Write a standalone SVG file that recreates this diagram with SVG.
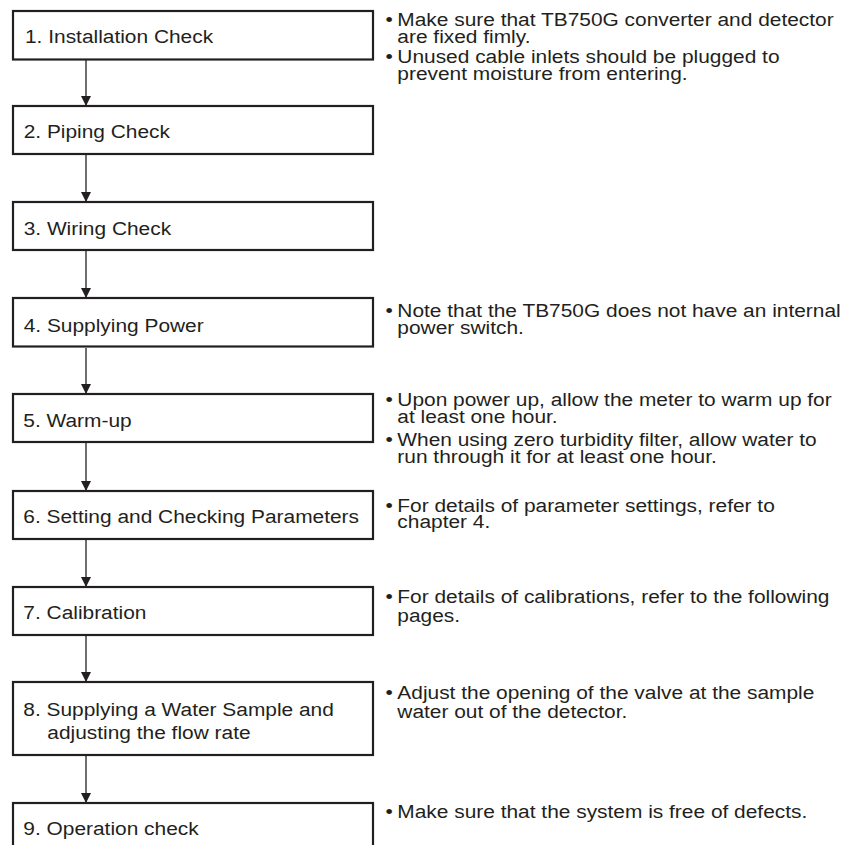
<svg xmlns="http://www.w3.org/2000/svg" width="853" height="845" viewBox="0 0 853 845">
  <style>
    .box { fill: #ffffff; stroke: #231f20; stroke-width: 2.2; }
    .lbl { font-family: "Liberation Sans", Arial, Helvetica, sans-serif; font-size: 19px; fill: #231f20; }
    .note { font-family: "Liberation Sans", Arial, Helvetica, sans-serif; font-size: 19px; fill: #231f20; }
    .conn { stroke: #231f20; stroke-width: 1.3; fill: none; marker-end: url(#arrow); }
  </style>
  <defs>
    <marker id="arrow" markerUnits="userSpaceOnUse" markerWidth="10" markerHeight="10" refX="10" refY="5" orient="auto">
      <path d="M0,0 L10,5 L0,10 Z" fill="#231f20"/>
    </marker>
  </defs>

  <rect width="853" height="845" fill="#ffffff"/>

  <!-- connectors between consecutive steps -->
  <g id="connectors">
    <line class="conn" x1="86" y1="60" x2="86" y2="106"/>
    <line class="conn" x1="86" y1="155" x2="86" y2="202"/>
    <line class="conn" x1="86" y1="251" x2="86" y2="298"/>
    <line class="conn" x1="86" y1="348" x2="86" y2="394"/>
    <line class="conn" x1="86" y1="443" x2="86" y2="491"/>
    <line class="conn" x1="86" y1="540" x2="86" y2="587"/>
    <line class="conn" x1="86" y1="636" x2="86" y2="682"/>
    <line class="conn" x1="86" y1="756" x2="86" y2="803"/>
  </g>

  <!-- steps; text is widened horizontally by scale(1.1 1), so x values are divided by 1.1 -->
  <g id="step1">
    <rect class="box" x="13" y="11" width="360" height="48.5"/>
    <text class="lbl" transform="scale(1.1 1)" x="22.7" y="43.3">1. Installation Check</text>
    <text class="note" transform="scale(1.1 1)">
      <tspan x="350.5" y="26.5">•</tspan><tspan x="361.2" y="26.5">Make sure that TB750G converter and detector</tspan>
      <tspan x="361.2" y="43">are fixed fimly.</tspan>
      <tspan x="350.5" y="63">•</tspan><tspan x="361.2" y="63">Unused cable inlets should be plugged to</tspan>
      <tspan x="361.2" y="80">prevent moisture from entering.</tspan>
    </text>
  </g>

  <g id="step2">
    <rect class="box" x="13" y="106" width="360" height="48"/>
    <text class="lbl" transform="scale(1.1 1)" x="21.5" y="138.3">2. Piping Check</text>
  </g>

  <g id="step3">
    <rect class="box" x="13" y="202" width="360" height="48"/>
    <text class="lbl" transform="scale(1.1 1)" x="21.5" y="235">3. Wiring Check</text>
  </g>

  <g id="step4">
    <rect class="box" x="13" y="298" width="360" height="48.5"/>
    <text class="lbl" transform="scale(1.1 1)" x="21.5" y="331.7">4. Supplying Power</text>
    <text class="note" transform="scale(1.1 1)">
      <tspan x="350.5" y="316.7">•</tspan><tspan x="361.2" y="316.7">Note that the TB750G does not have an internal</tspan>
      <tspan x="361.2" y="334.5">power switch.</tspan>
    </text>
  </g>

  <g id="step5">
    <rect class="box" x="13" y="394" width="360" height="48"/>
    <text class="lbl" transform="scale(1.1 1)" x="21.2" y="426.7">5. Warm-up</text>
    <text class="note" transform="scale(1.1 1)">
      <tspan x="350.5" y="406.5">•</tspan><tspan x="361.2" y="406.5">Upon power up, allow the meter to warm up for</tspan>
      <tspan x="361.2" y="423.3">at least one hour.</tspan>
      <tspan x="350.5" y="446">•</tspan><tspan x="361.2" y="446">When using zero turbidity filter, allow water to</tspan>
      <tspan x="361.2" y="463">run through it for at least one hour.</tspan>
    </text>
  </g>

  <g id="step6">
    <rect class="box" x="13" y="491" width="360" height="48"/>
    <text class="lbl" transform="scale(1.1 1)" x="21.2" y="523.3">6. Setting and Checking Parameters</text>
    <text class="note" transform="scale(1.1 1)">
      <tspan x="350.5" y="511.7">•</tspan><tspan x="361.2" y="511.7">For details of parameter settings, refer to</tspan>
      <tspan x="361.2" y="528.3">chapter 4.</tspan>
    </text>
  </g>

  <g id="step7">
    <rect class="box" x="13" y="587" width="360" height="48"/>
    <text class="lbl" transform="scale(1.1 1)" x="21.2" y="619.3">7. Calibration</text>
    <text class="note" transform="scale(1.1 1)">
      <tspan x="350.5" y="603.3">•</tspan><tspan x="361.2" y="603.3">For details of calibrations, refer to the following</tspan>
      <tspan x="361.2" y="622">pages.</tspan>
    </text>
  </g>

  <g id="step8">
    <rect class="box" x="13" y="682" width="360" height="73"/>
    <text class="lbl" transform="scale(1.1 1)">
      <tspan x="21.2" y="716">8. Supplying a Water Sample and</tspan>
      <tspan x="43" y="739.3">adjusting the flow rate</tspan>
    </text>
    <text class="note" transform="scale(1.1 1)">
      <tspan x="350.5" y="699.3">•</tspan><tspan x="361.2" y="699.3">Adjust the opening of the valve at the sample</tspan>
      <tspan x="361.2" y="718.5">water out of the detector.</tspan>
    </text>
  </g>

  <g id="step9">
    <rect class="box" x="13" y="803" width="360" height="48"/>
    <text class="lbl" transform="scale(1.1 1)" x="21.2" y="835">9. Operation check</text>
    <text class="note" transform="scale(1.1 1)">
      <tspan x="350.5" y="818.3">•</tspan><tspan x="361.2" y="818.3">Make sure that the system is free of defects.</tspan>
    </text>
  </g>
</svg>
